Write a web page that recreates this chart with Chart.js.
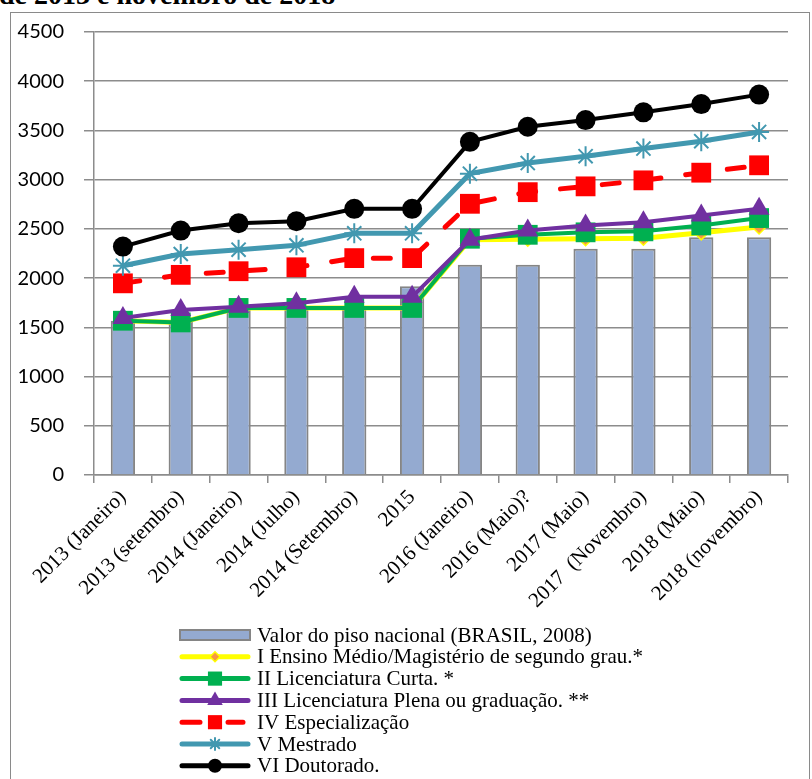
<!DOCTYPE html>
<html>
<head>
<meta charset="utf-8">
<script src="https://cdn.jsdelivr.net/npm/chart.js@4.4.1/dist/chart.umd.min.js"></script>
<style>
  html, body { margin: 0; padding: 0; background: #fff; overflow: hidden; }
  #wrap { position: relative; width: 812px; height: 779px; overflow: hidden; }
  #frame { position: absolute; left: 10px; top: 12px; width: 800px; height: 800px;
           border: 1.5px solid #8a8a8a; box-sizing: border-box; }
  #title { position: absolute; left: -1px; top: -19px; font: bold 28px "Liberation Serif", serif;
           line-height: 28px; white-space: nowrap; color: #000; }
  canvas { position: absolute; left: 0; top: 0; }
</style>
</head>
<body>
<div id="wrap">
  <div id="title">de 2013 e novembro de 2018</div>
  <div id="frame"></div>
  <canvas id="chart" width="812" height="779"></canvas>
</div>
<script>
// Periods of each salary table
const categories = [
  '2013 (Janeiro)', '2013 (setembro)', '2014 (Janeiro)', '2014 (Julho)',
  '2014 (Setembro)', '2015', '2016 (Janeiro)', '2016 (Maio)?', '2017 (Maio)',
  '2017  (Novembro)', '2018 (Maio)', '2018 (novembro)'
];

// National minimum salary (bars)
const pisoNacional = [1567, 1567, 1697, 1697, 1697, 1918, 2136, 2136, 2299, 2299, 2415, 2415];

// Salary by qualification level (lines)
const ensinoMedio    = [1567, 1550, 1697, 1697, 1697, 1697, 2390, 2395, 2400, 2405, 2460, 2520];
const licCurta       = [1567, 1550, 1697, 1697, 1697, 1697, 2400, 2440, 2465, 2475, 2535, 2610];
const licPlena       = [1595, 1675, 1710, 1745, 1810, 1810, 2390, 2483, 2534, 2568, 2636, 2704];
const especializacao = [1947, 2033, 2070, 2110, 2203, 2203, 2755, 2873, 2932, 2993, 3071, 3146];
const mestrado       = [2126, 2245, 2289, 2333, 2455, 2455, 3061, 3169, 3238, 3316, 3391, 3485];
const doutorado      = [2320, 2483, 2557, 2578, 2704, 2704, 3384, 3537, 3605, 3684, 3768, 3864];

const yTicks = { min: 0, max: 4500, step: 500 };

const GRID = '#8c8c8c';

// Marker sizes used in the legend swatches
const legendMarker = [null, 5, 10, 9, 10, 6, 7];
const legendDash = [null, [], [], [], [18, 28], [], []];

const legendPlugin = {
  id: 'bottomLegend',
  afterDraw(chart) {
    const ctx = chart.ctx;
    const x0 = 180, x1 = 250, tx = 257, y0 = 635, dy = 21.8;
    chart.data.datasets.forEach((ds, i) => {
      const y = y0 + i * dy;
      ctx.save();
      if (ds.type === 'bar') {
        ctx.fillStyle = ds.backgroundColor;
        ctx.strokeStyle = ds.borderColor;
        ctx.lineWidth = 2;
        ctx.fillRect(x0, y - 5, x1 - x0, 10);
        ctx.strokeRect(x0, y - 5, x1 - x0, 10);
      } else {
        ctx.strokeStyle = ds.borderColor;
        ctx.lineWidth = 5;
        ctx.lineCap = 'round';
        ctx.setLineDash(legendDash[i]);
        ctx.beginPath();
        const end = legendDash[i].length ? 243 : x1 - 2;
        ctx.moveTo(x0 + 2, y);
        ctx.lineTo(end, y);
        ctx.stroke();
        ctx.setLineDash([]);
        ctx.fillStyle = ds.pointBackgroundColor;
        ctx.strokeStyle = ds.pointBorderColor;
        ctx.lineWidth = ds.pointBorderWidth;
        Chart.helpers.drawPoint(ctx, {
          pointStyle: ds.pointStyle, radius: legendMarker[i],
          borderWidth: ds.pointBorderWidth, rotation: 0
        }, (x0 + x1) / 2, y);
      }
      ctx.fillStyle = '#000';
      ctx.font = '21px "Liberation Serif"';
      ctx.textBaseline = 'middle';
      ctx.textAlign = 'left';
      ctx.fillText(ds.label, tx, y + 1);
      ctx.restore();
    });
  }
};

function lineSet(label, data, color, opts) {
  return Object.assign({
    type: 'line', label, data,
    borderColor: color, backgroundColor: color,
    borderWidth: 4, fill: false, tension: 0,
    pointBackgroundColor: color, pointBorderColor: color, pointBorderWidth: 1,
    pointRadius: 10, pointHoverRadius: 10
  }, opts);
}

new Chart(document.getElementById('chart'), {
  type: 'bar',
  data: {
    labels: categories,
    datasets: [
      { type: 'bar', label: 'Valor do piso nacional (BRASIL, 2008)', data: pisoNacional,
        backgroundColor: '#94aad0', borderColor: '#858585', borderWidth: 2,
        barPercentage: 0.42, categoryPercentage: 1, order: 10 },
      lineSet('I Ensino Médio/Magistério de segundo grau.*', ensinoMedio, '#ffff00',
        { borderWidth: 5, pointStyle: 'rectRot', pointRadius: 7, pointBackgroundColor: '#f79646',
          pointBorderColor: '#ffff00', pointBorderWidth: 1.5, order: 6 }),
      lineSet('II Licenciatura Curta. *', licCurta, '#00b050',
        { pointStyle: 'rect', pointRadius: 14, pointBorderWidth: 0, order: 5 }),
      lineSet('III Licenciatura Plena ou graduação. **', licPlena, '#7030a0',
        { pointStyle: 'triangle', pointRadius: 12, pointBorderWidth: 0, order: 4 }),
      lineSet('IV Especialização', especializacao, '#ff0000',
        { borderWidth: 5, borderDash: [17, 25], borderCapStyle: 'round',
          pointStyle: 'rect', pointRadius: 14, pointBorderWidth: 0, order: 3 }),
      lineSet('V Mestrado', mestrado, '#4298b0',
        { borderWidth: 5, pointStyle: 'star', pointRadius: 10, pointBorderWidth: 2,
          pointBackgroundColor: 'rgba(0,0,0,0)', order: 2 }),
      lineSet('VI Doutorado.', doutorado, '#000000',
        { pointStyle: 'circle', pointRadius: 10, pointBorderWidth: 0, order: 1 })
    ]
  },
  options: {
    responsive: false,
    animation: false,
    events: [],
    layout: { padding: { left: 0, top: 32, right: 24, bottom: 0 } },
    plugins: { legend: { display: false }, tooltip: { enabled: false } },
    scales: {
      x: {
        offset: true,
        grid: { display: true, drawOnChartArea: false, drawTicks: true, tickLength: 8,
                color: GRID, lineWidth: 1.5, offset: true },
        border: { display: true, color: GRID, width: 1.5 },
        ticks: { autoSkip: false, minRotation: 45, maxRotation: 45, color: '#000',
                 padding: 2, font: { family: '"Liberation Serif"', size: 21 } },
        afterFit(s) { s.height = 779 - 475; }
      },
      y: {
        min: yTicks.min, max: yTicks.max,
        grid: { color: GRID, lineWidth: 1.5, tickLength: 10 },
        border: { display: true, color: GRID, width: 1.5 },
        ticks: { stepSize: yTicks.step, color: '#000', padding: 20,
                 font: { family: 'Lato', size: 20 },
                 callback: (v) => String(v) },
        afterFit(s) { s.width = 94; }
      }
    }
  },
  plugins: [legendPlugin]
});
</script>
</body>
</html>
